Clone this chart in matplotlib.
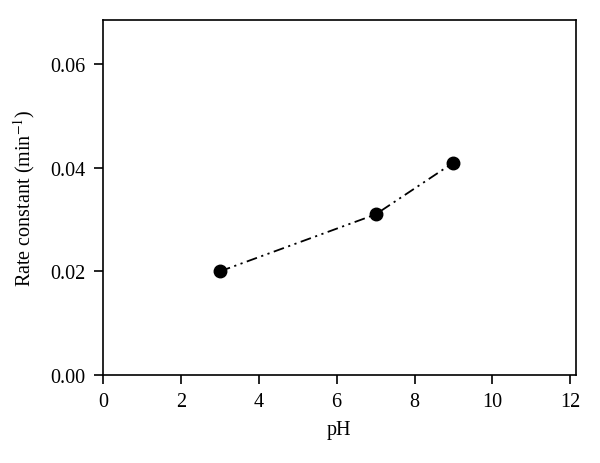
import matplotlib
matplotlib.use('Agg')
import matplotlib.pyplot as plt

# rate constant vs pH
PH = [3, 7, 9]
RATE_CONSTANT = [0.020, 0.031, 0.041]
X_TICKS = [0, 2, 4, 6, 8, 10, 12]
Y_TICKS = [0.00, 0.02, 0.04, 0.06]

plt.rcParams['font.family'] = ['Liberation Serif', 'DejaVu Serif']
plt.rcParams['mathtext.fontset'] = 'stix'

fig = plt.figure(figsize=(6, 4.64), dpi=100)
ax = fig.add_axes([0.1717, 0.1897, 0.7878, 0.7657])

ax.plot(PH, RATE_CONSTANT, color='black', linewidth=1.3,
        linestyle=(0, (6, 2.5, 1.2, 2.5, 1.2, 2.5)),
        marker='o', markersize=9, markerfacecolor='black', markeredgecolor='black')

ax.set_xlim(0, 12.14)
ax.set_ylim(0, 0.0686)
ax.set_xticks(X_TICKS)
ax.set_yticks(Y_TICKS)
ax.set_yticklabels(['%.2f' % v for v in Y_TICKS])
ax.tick_params(direction='out', length=6.5, width=1.2, labelsize=14.5, pad=6)
for spine in ax.spines.values():
    spine.set_linewidth(1.2)

ax.set_xlabel('pH', fontsize=14.5, labelpad=6)
ax.set_ylabel(r'Rate constant (min$^{-1}$)', fontsize=14.5, labelpad=10)

fig.savefig('out.png', dpi=100)
